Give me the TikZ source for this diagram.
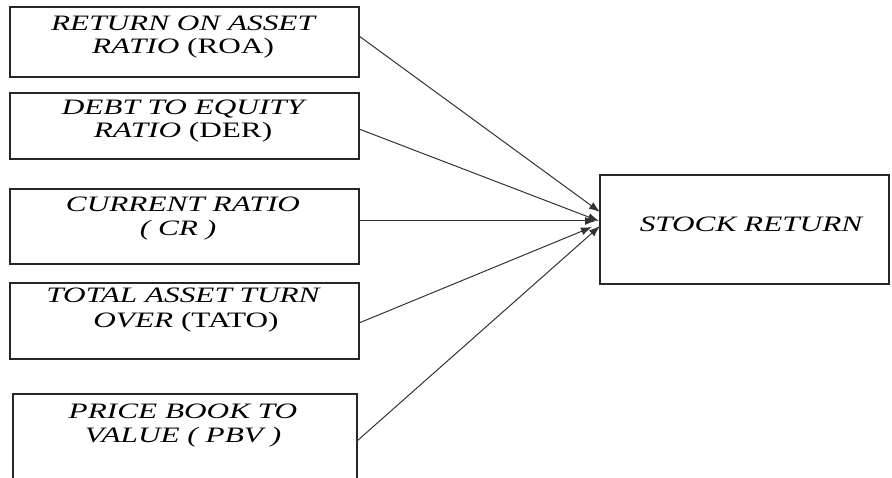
\documentclass[tikz,border=0pt]{standalone}
\usepackage{fontspec}
\setmainfont{Liberation Serif}[FakeStretch=1.42]
\usetikzlibrary{arrows.meta}
\begin{document}
\begin{tikzpicture}[x=1pt,y=-1pt,
  box/.style={draw=black!85,line width=1.2pt,inner sep=0pt,outer sep=0pt,rectangle},
  lbl/.style={anchor=base,inner sep=0pt,font=\fontsize{22}{24}\selectfont,text=black},
  conn/.style={draw=black!80,line width=1pt,-{Latex[length=11pt,width=8pt]}}]
\useasboundingbox (0,0) rectangle (892,478);
\clip (0,0) rectangle (892,478);
% boxes
\node[box,minimum width=349pt,minimum height=70pt] (roa) at (184.5,42) {};
\node[box,minimum width=349pt,minimum height=66pt] (der) at (184.5,126) {};
\node[box,minimum width=349pt,minimum height=75pt] (cr) at (184.5,226.5) {};
\node[box,minimum width=349pt,minimum height=76pt] (tato) at (184.5,321) {};
\node[box,minimum width=344pt,minimum height=110pt] (pbv) at (185,449) {};
\node[box,minimum width=289pt,minimum height=109pt] (sr) at (744.5,229.5) {};
% labels
\node[lbl] (roa1) at (183,31) {\itshape RETURN ON ASSET};
\node[lbl] (roa2) at (183,54) {\textit{RATIO} (ROA)};
\node[lbl] (der1) at (183,115) {\itshape DEBT TO EQUITY};
\node[lbl] (der2) at (183,138) {\textit{RATIO} (DER)};
\node[lbl] (cr1) at (183,212) {\itshape CURRENT RATIO};
\node[lbl] (cr2) at (178,236) {\itshape ( CR )};
\node[lbl] (tato1) at (183,303) {\itshape TOTAL ASSET TURN};
\node[lbl] (tato2) at (186,328) {\textit{OVER} (TATO)};
\node[lbl] (pbv1) at (183,418) {\itshape PRICE BOOK TO};
\node[lbl] (pbv2) at (183,442) {\itshape VALUE ( PBV )};
\node[lbl] (sr1) at (751,232) {\itshape STOCK RETURN};
% connector ends
\coordinate (troa) at (600,212);
\coordinate (tder) at (599,221);
\coordinate (tcr) at (596,221);
\coordinate (ttato) at (592,227);
\coordinate (tpbv) at (600,226);
\draw[conn] ([yshift=6pt]roa.east) -- (troa);
\draw[conn] ([yshift=-3pt]der.east) -- (tder);
\draw[conn] ([yshift=5.5pt]cr.east) -- (tcr);
\draw[conn] ([yshift=-2pt]tato.east) -- (ttato);
\draw[conn] (pbv.east |- 0,441) -- (tpbv);
\end{tikzpicture}
\end{document}
